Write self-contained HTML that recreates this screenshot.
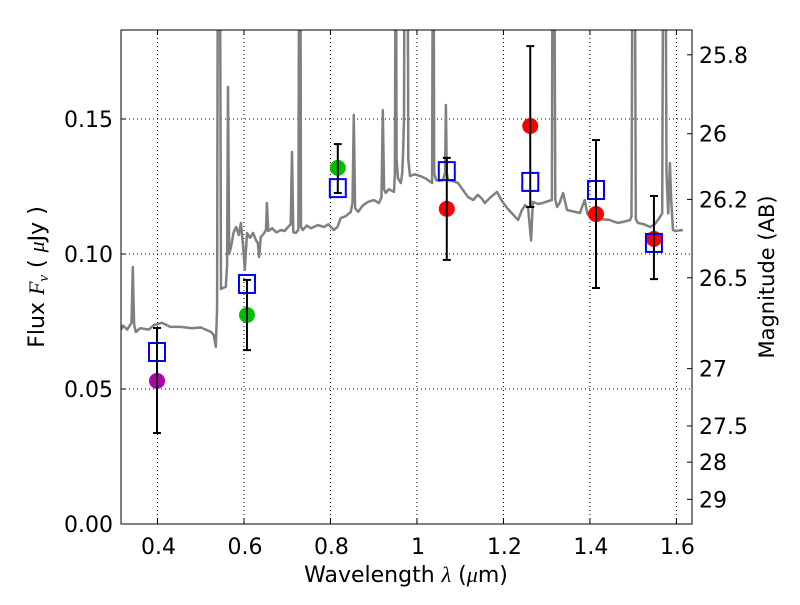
<!DOCTYPE html>
<html><head><meta charset="utf-8"><style>
body{margin:0;background:#fff}
svg text{font-family:"DejaVu Sans","Liberation Sans",sans-serif;fill:#000}
</style></head><body>
<svg id="chart" width="800" height="600" xmlns="http://www.w3.org/2000/svg">
<rect width="800" height="600" fill="#fff"/>
<defs><clipPath id="clip"><rect x="121" y="30" width="571" height="494"/></clipPath></defs>
<g id="grid"></g>
<g id="plot" clip-path="url(#clip)"></g>
<rect x="121" y="30" width="571" height="494" fill="none" stroke="#000" stroke-width="1"/>
<g id="axes"></g>
<text x="406" y="582" font-size="22" text-anchor="middle">Wavelength  <tspan font-family="Liberation Serif" font-style="italic">λ</tspan> (<tspan font-family="Liberation Serif" font-style="italic">μ</tspan>m)</text>
<text transform="translate(44,277) rotate(-90)" font-size="22" text-anchor="middle">Flux  <tspan font-family="Liberation Serif" font-style="italic">F</tspan><tspan font-family="Liberation Serif" font-style="italic" font-size="15" dy="4">ν</tspan><tspan dy="-4">  ( </tspan><tspan font-family="Liberation Serif" font-style="italic">μ</tspan>Jy )</text>
<text transform="translate(774,277) rotate(-90)" font-size="21" text-anchor="middle">Magnitude (AB)</text>
</svg>
<script>
const specLam=[0.316,0.320,0.330,0.340,0.343,0.346,0.350,0.360,0.380,0.392,0.410,0.430,0.454,0.480,0.500,0.524,0.530,0.535,0.538,0.540,0.544,0.547,0.551,0.558,0.561,0.563,0.566,0.570,0.576,0.582,0.588,0.593,0.598,0.602,0.607,0.614,0.621,0.628,0.632,0.635,0.639,0.646,0.651,0.653,0.656,0.665,0.675,0.686,0.694,0.702,0.708,0.711,0.714,0.720,0.726,0.728,0.730,0.732,0.736,0.745,0.755,0.771,0.785,0.795,0.808,0.816,0.824,0.835,0.847,0.851,0.854,0.857,0.864,0.875,0.887,0.900,0.912,0.918,0.921,0.924,0.928,0.935,0.947,0.949,0.951,0.953,0.956,0.960,0.963,0.966,0.968,0.970,0.972,0.978,0.980,0.984,0.995,1.007,1.020,1.035,1.036,1.038,1.040,1.044,1.052,1.060,1.065,1.067,1.069,1.072,1.083,1.095,1.105,1.118,1.130,1.141,1.150,1.157,1.170,1.185,1.195,1.208,1.220,1.234,1.242,1.250,1.257,1.264,1.268,1.280,1.291,1.302,1.312,1.314,1.317,1.320,1.324,1.330,1.338,1.347,1.360,1.377,1.383,1.388,1.394,1.400,1.420,1.446,1.455,1.465,1.480,1.493,1.496,1.499,1.503,1.506,1.511,1.525,1.539,1.550,1.562,1.567,1.570,1.574,1.577,1.581,1.585,1.588,1.592,1.597,1.615,1.636];
const specFlux=[0.0720,0.0735,0.0720,0.0745,0.0952,0.0740,0.0711,0.0725,0.0720,0.0737,0.0745,0.0730,0.0730,0.0725,0.0728,0.0711,0.0700,0.0656,0.0800,0.2500,0.2500,0.0870,0.0874,0.0878,0.0960,0.1619,0.1000,0.1026,0.1080,0.1100,0.1070,0.1115,0.1030,0.0941,0.1078,0.1060,0.1078,0.1050,0.1041,0.0989,0.1063,0.1075,0.1089,0.1189,0.1085,0.1095,0.1080,0.1089,0.1085,0.1100,0.1110,0.1378,0.1080,0.1078,0.1090,0.2500,0.2500,0.1100,0.1089,0.1105,0.1095,0.1107,0.1100,0.1110,0.1089,0.1100,0.1133,0.1140,0.1156,0.1190,0.1515,0.1170,0.1156,0.1180,0.1193,0.1200,0.1189,0.1210,0.1533,0.1240,0.1226,0.1240,0.1230,0.1300,0.2500,0.1350,0.1281,0.1270,0.1263,0.1300,0.1374,0.1500,0.2500,0.2500,0.1350,0.1289,0.1295,0.1289,0.1280,0.1263,0.1800,0.2500,0.1300,0.1274,0.1270,0.1274,0.1300,0.1552,0.1300,0.1274,0.1270,0.1263,0.1240,0.1211,0.1200,0.1219,0.1205,0.1189,0.1210,0.1230,0.1200,0.1171,0.1150,0.1126,0.1160,0.1181,0.1170,0.1050,0.1193,0.1185,0.1189,0.1195,0.1200,0.2500,0.2500,0.1200,0.1174,0.1190,0.1226,0.1163,0.1158,0.1152,0.1180,0.1200,0.1150,0.1137,0.1130,0.1126,0.1120,0.1115,0.1120,0.1126,0.1140,0.2500,0.2500,0.1130,0.1115,0.1110,0.1100,0.1110,0.1137,0.1150,0.2500,0.2500,0.1300,0.1150,0.1337,0.1200,0.1089,0.1085,0.1089];
const bandLam=[0.399,0.607,0.817,1.069,1.262,1.414,1.548];
const modelFlux=[0.0637,0.0889,0.1244,0.1307,0.1267,0.1237,0.1041];
const obsFlux=[0.053,0.0774,0.1319,0.1167,0.1474,0.1148,0.1056];
const errLow=[0.0337,0.0644,0.1226,0.0978,0.1174,0.0874,0.0907];
const errHigh=[0.0726,0.0904,0.1407,0.1356,0.177,0.1422,0.1215];
const obsColors=['#b000b0','#00c000','#00c000','#ff0000','#ff0000','#ff0000','#ff0000'];
const xTicks=[0.4,0.6,0.8,1.0,1.2,1.4,1.6];
const xTickLabels=['0.4','0.6','0.8','1','1.2','1.4','1.6'];
const yTicks=[0,0.05,0.10,0.15];
const yTickLabels=['0.00','0.05','0.10','0.15'];
const magTicks=[25.8,26,26.2,26.5,27,27.5,28,29];
const magTickLabels=['25.8','26','26.2','26.5','27','27.5','28','29'];

const X0=121,X1=692,Y0=524,Y1=30,xmin=0.3157,xmax=1.6360,ymin=0,ymax=0.18296;
const sx=v=>X0+(v-xmin)/(xmax-xmin)*(X1-X0);
const sy=v=>Y0-(v-ymin)/(ymax-ymin)*(Y0-Y1);
const magToFlux=m=>Math.pow(10,(23.9-m)/2.5);
const NS='http://www.w3.org/2000/svg';
function mk(tag,parent,attrs){const e=document.createElementNS(NS,tag);for(const k in attrs)e.setAttribute(k,attrs[k]);parent.appendChild(e);return e;}
const grid=document.getElementById('grid'),plot=document.getElementById('plot'),axes=document.getElementById('axes');

xTicks.forEach((t,i)=>{const x=sx(t);
 const g=mk('line',grid,{x1:x,x2:x,y1:Y1,y2:Y0,stroke:'#000','stroke-dasharray':'1,3','stroke-width':1});
 
 mk('line',axes,{x1:x,x2:x,y1:Y0,y2:Y0-5,stroke:'#000'});mk('line',axes,{x1:x,x2:x,y1:Y1,y2:Y1+5,stroke:'#000'});
 const tx=mk('text',axes,{x:x+1,y:554,'font-size':22,'text-anchor':'middle'});tx.textContent=xTickLabels[i];
 });
yTicks.forEach((t,i)=>{const y=sy(t);
 if(t>0){const g=mk('line',grid,{x1:X0,x2:X1,y1:y,y2:y,stroke:'#000','stroke-dasharray':'1,3','stroke-width':1});
 }
 mk('line',axes,{x1:X0,x2:X0+5,y1:y,y2:y,stroke:'#000'});
 const tx=mk('text',axes,{x:113,y:y+8,'font-size':22,'text-anchor':'end'});tx.textContent=yTickLabels[i];
 });
magTicks.forEach((m,i)=>{const y=sy(magToFlux(m));
 mk('line',axes,{x1:X1,x2:X1-5,y1:y,y2:y,stroke:'#000'});
 const tx=mk('text',axes,{x:699,y:y+8,'font-size':22});tx.textContent=magTickLabels[i];
 });

const sp=mk('polyline',plot,{points:specLam.map((l,i)=>sx(l).toFixed(1)+','+sy(specFlux[i]).toFixed(1)).join(' '),fill:'none',stroke:'#808080','stroke-width':2.5,'stroke-linejoin':'round'});


bandLam.forEach((l,i)=>{const x=sx(l);
 const ob=mk('circle',plot,{cx:x,cy:sy(obsFlux[i]),r:8,fill:obsColors[i]});
 
 const b=mk('rect',plot,{x:x-8,y:sy(modelFlux[i])-9,width:16,height:18,fill:'none',stroke:'#0000ff','stroke-width':2});
 
 const eg=mk('g',plot,{stroke:'#000','stroke-width':2});
 
 mk('line',eg,{x1:x,x2:x,y1:sy(errLow[i]),y2:sy(errHigh[i])});
 mk('line',eg,{x1:x-4,x2:x+4,y1:sy(errLow[i]),y2:sy(errLow[i])});
 mk('line',eg,{x1:x-4,x2:x+4,y1:sy(errHigh[i]),y2:sy(errHigh[i])});});
</script>
</body></html>
